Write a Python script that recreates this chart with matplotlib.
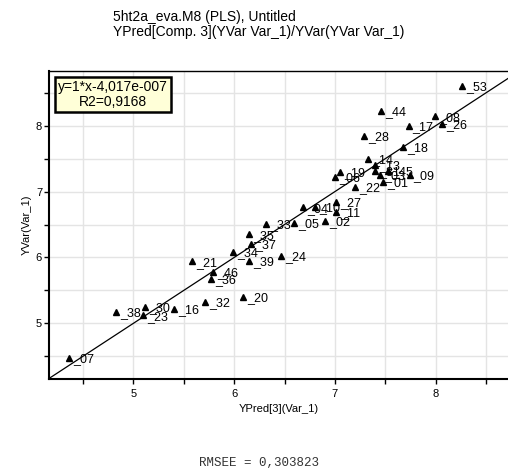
import matplotlib; matplotlib.use("Agg")
import matplotlib.pyplot as plt
from matplotlib.ticker import MultipleLocator

plt.rcParams['font.family'] = ['Liberation Sans', 'DejaVu Sans']

# observation labels, predicted (x) and observed (y) values
names = ["_07", "_38", "_30", "_23", "_16", "_32", "_20", "_21", "_46", "_36",
         "_34", "_39", "_37", "_35", "_24", "_33", "_05", "_02", "_04", "_10",
         "_11", "_27", "_06", "_19", "_22", "_01", "_03", "_31", "_45", "_09",
         "_13", "_14", "_18", "_28", "_17", "_44", "_26", "_08", "_53"]
ypred = [4.36, 4.83, 5.12, 5.10, 5.40, 5.71, 6.09, 5.58, 5.79, 5.77,
         5.99, 6.15, 6.17, 6.15, 6.47, 6.32, 6.59, 6.90, 6.68, 6.80,
         7.01, 7.01, 7.00, 7.05, 7.20, 7.48, 7.45, 7.40, 7.53, 7.74,
         7.40, 7.33, 7.68, 7.29, 7.73, 7.46, 8.06, 7.99, 8.26]
yobs = [4.48, 5.18, 5.25, 5.12, 5.22, 5.32, 5.40, 5.94, 5.78, 5.67,
        6.08, 5.95, 6.20, 6.35, 6.02, 6.51, 6.53, 6.56, 6.76, 6.77,
        6.69, 6.84, 7.22, 7.30, 7.07, 7.15, 7.25, 7.32, 7.32, 7.25,
        7.41, 7.49, 7.68, 7.84, 7.99, 8.22, 8.03, 8.14, 8.60]

slope, intercept = 1.0, -4.017e-7

fig = plt.figure(figsize=(5.08, 4.75), dpi=100)
ax = fig.add_axes([0.0965, 0.2021, 0.9035, 0.6484])
xlim = (4.164, 8.717)
ylim = (4.156, 8.83)
ax.set_xlim(*xlim); ax.set_ylim(*ylim)

ax.xaxis.set_major_locator(MultipleLocator(1))
ax.xaxis.set_minor_locator(MultipleLocator(0.5))
ax.yaxis.set_major_locator(MultipleLocator(1))
ax.yaxis.set_minor_locator(MultipleLocator(0.5))
ax.grid(True, which="both", color="#e4e4e4", lw=1.0, zorder=0)
ax.set_axisbelow(True)
ax.tick_params(which="both", direction="out", length=3.5, width=1, labelsize=8, color="black")
ax.tick_params(axis="x", pad=4)
ax.tick_params(axis="y", pad=1.5)
ax.spines["right"].set_visible(False)
for s in ["left", "bottom"]:
    ax.spines[s].set_linewidth(1.5)
ax.spines["top"].set_linewidth(1.0)

# regression line
xs = [xlim[0], xlim[1]]
ax.plot(xs, [slope * v + intercept for v in xs], color="black", lw=0.9, zorder=2)

ax.plot(ypred, yobs, "^", color="black", ms=5, zorder=3, clip_on=False)
for n, x, y in zip(names, ypred, yobs):
    ax.annotate(n, (x, y), xytext=(3, -3), textcoords="offset points",
                ha="left", va="baseline", fontsize=9, zorder=4)

ax.text(0.0196, 0.971, "y=1*x-4,017e-007\nR2=0,9168", transform=ax.transAxes,
        ha="left", va="top", fontsize=10, multialignment="center", linespacing=1.1,
        bbox=dict(boxstyle="square,pad=0.2", fc="#ffffd8", ec="black", lw=1.8))

ax.set_xlabel("YPred[3](Var_1)", fontsize=8, labelpad=3)
ax.set_ylabel("YVar(Var_1)", fontsize=8, labelpad=3)

fig.text(0.2224, 1 - 17/475, "5ht2a_eva.M8 (PLS), Untitled", fontsize=10, va="center", ha="left")
fig.text(0.2224, 1 - 32/475, "YPred[Comp. 3](YVar Var_1)/YVar(YVar Var_1)", fontsize=10,
         va="center", ha="left")
fig.text(259/508, 1 - 463/475, "RMSEE = 0,303823", family="Liberation Mono",
         fontsize=9, ha="center", va="center", color="#333333")

fig.savefig("out.png", dpi=100)
